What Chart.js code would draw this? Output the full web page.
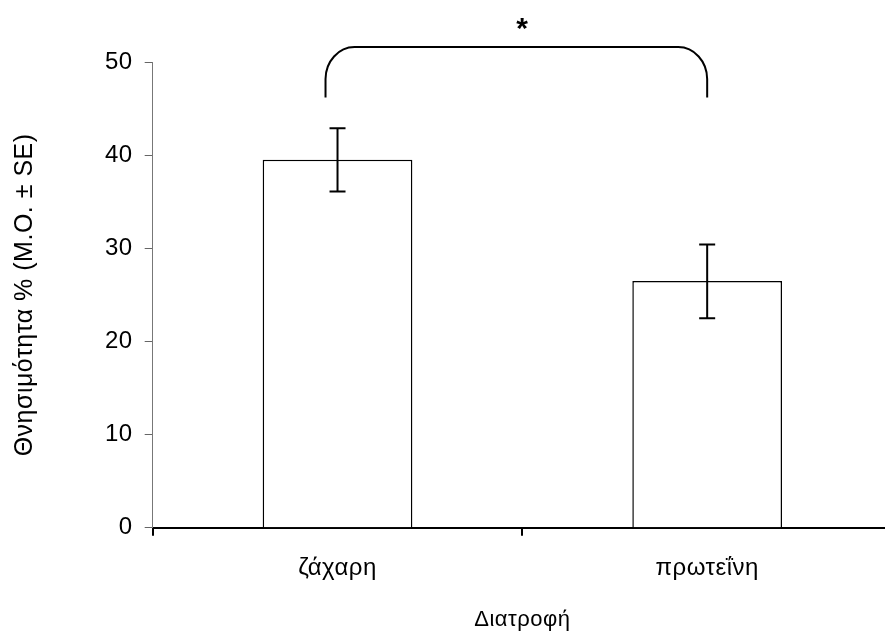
<!DOCTYPE html>
<html>
<head>
<meta charset="utf-8">
<script src="https://cdn.jsdelivr.net/npm/chart.js@4.4.1/dist/chart.umd.min.js"></script>
<style>
    html, body { margin: 0; padding: 0; background: #fff; overflow: hidden; }
    #wrap { width: 900px; height: 633px; }
</style>
</head>
<body>
<div id="wrap"><canvas id="mortalityChart"></canvas></div>
<script>
// Dane wykresu
const categories = ['ζάχαρη', 'πρωτεΐνη'];
const meanValues = [39.5, 26.5];
const seUpper = [42.9, 30.4];
const seLower = [36.1, 22.5];
const yTicks = [0, 10, 20, 30, 40, 50];
const bracketTop = 51.6;
const bracketEnd = 46.2;
const signifMark = '*';

const FONT = '"Liberation Sans", Arial, sans-serif';
const SPACING = '0.5px';

// Nieco szersze odstępy między literami (jak w oryginale)
const spacingPlugin = {
    id: 'spacing',
    beforeLayout(chart) { chart.ctx.letterSpacing = SPACING; },
    beforeDraw(chart) { chart.ctx.letterSpacing = SPACING; }
};

// Słupki błędów (± SE)
const errorBarsPlugin = {
    id: 'errorBars',
    afterDatasetsDraw(chart) {
        const ctx = chart.ctx;
        const x = chart.scales.x, y = chart.scales.y;
        ctx.save();
        ctx.strokeStyle = '#000';
        ctx.lineWidth = 2;
        meanValues.forEach((v, i) => {
            const px = x.getPixelForValue(i);
            const top = y.getPixelForValue(seUpper[i]);
            const bot = y.getPixelForValue(seLower[i]);
            ctx.beginPath();
            ctx.moveTo(px, top); ctx.lineTo(px, bot);
            ctx.moveTo(px - 8, top); ctx.lineTo(px + 8, top);
            ctx.moveTo(px - 8, bot); ctx.lineTo(px + 8, bot);
            ctx.stroke();
        });
        ctx.restore();
    }
};

// Klamra istotności z gwiazdką
const bracketPlugin = {
    id: 'bracket',
    afterDraw(chart) {
        const ctx = chart.ctx;
        const x = chart.scales.x, y = chart.scales.y;
        const left = x.getPixelForValue(0) - 12;
        const right = x.getPixelForValue(1);
        const top = y.getPixelForValue(bracketTop);
        const end = y.getPixelForValue(bracketEnd);
        const rx = 29, ry = 32;
        ctx.save();
        ctx.strokeStyle = '#000';
        ctx.lineWidth = 2;
        ctx.beginPath();
        ctx.moveTo(left, end);
        ctx.lineTo(left, top + ry);
        ctx.bezierCurveTo(left, top + ry * 0.45, left + rx * 0.45, top, left + rx, top);
        ctx.lineTo(right - rx, top);
        ctx.bezierCurveTo(right - rx * 0.45, top, right, top + ry * 0.45, right, top + ry);
        ctx.lineTo(right, end);
        ctx.stroke();
        ctx.fillStyle = '#000';
        ctx.font = 'bold 30px ' + FONT;
        ctx.textAlign = 'center';
        ctx.textBaseline = 'middle';
        ctx.fillText(signifMark, x.getPixelForValue(0.5), top - 17);
        ctx.restore();
    }
};

new Chart(document.getElementById('mortalityChart').getContext('2d'), {
    type: 'bar',
    data: {
        labels: categories,
        datasets: [{
            data: meanValues,
            backgroundColor: '#fff',
            borderColor: '#000',
            borderWidth: 1.5,
            categoryPercentage: 1,
            barPercentage: 0.405
        }]
    },
    options: {
        responsive: true,
        maintainAspectRatio: false,
        animation: false,
        layout: { padding: { top: 62, right: 8, left: 10, bottom: 0 } },
        plugins: {
            legend: { display: false },
            tooltip: { enabled: false }
        },
        scales: {
            x: {
                grid: { display: true, drawOnChartArea: false, offset: true, color: '#000', lineWidth: 2, tickLength: 8 },
                border: { display: true, color: '#000', width: 2 },
                ticks: { color: '#000', font: { family: FONT, size: 24 }, padding: 18, maxRotation: 0 },
                title: { display: true, text: 'Διατροφή', color: '#000', font: { family: FONT, size: 22 }, padding: { top: 6, bottom: 0 } }
            },
            y: {
                min: 0,
                max: 50,
                afterBuildTicks: axis => { axis.ticks = yTicks.map(v => ({ value: v })); },
                grid: { display: true, drawOnChartArea: false, color: '#666', lineWidth: 1, tickLength: 8 },
                border: { display: true, color: '#777', width: 1 },
                ticks: { color: '#000', font: { family: FONT, size: 24 }, padding: 12 },
                title: { display: true, text: 'Θνησιμότητα % (M.O. ± SE)', color: '#000', font: { family: FONT, size: 25 }, padding: { top: 0, bottom: 53 } }
            }
        }
    },
    plugins: [spacingPlugin, errorBarsPlugin, bracketPlugin]
});
</script>
</body>
</html>
